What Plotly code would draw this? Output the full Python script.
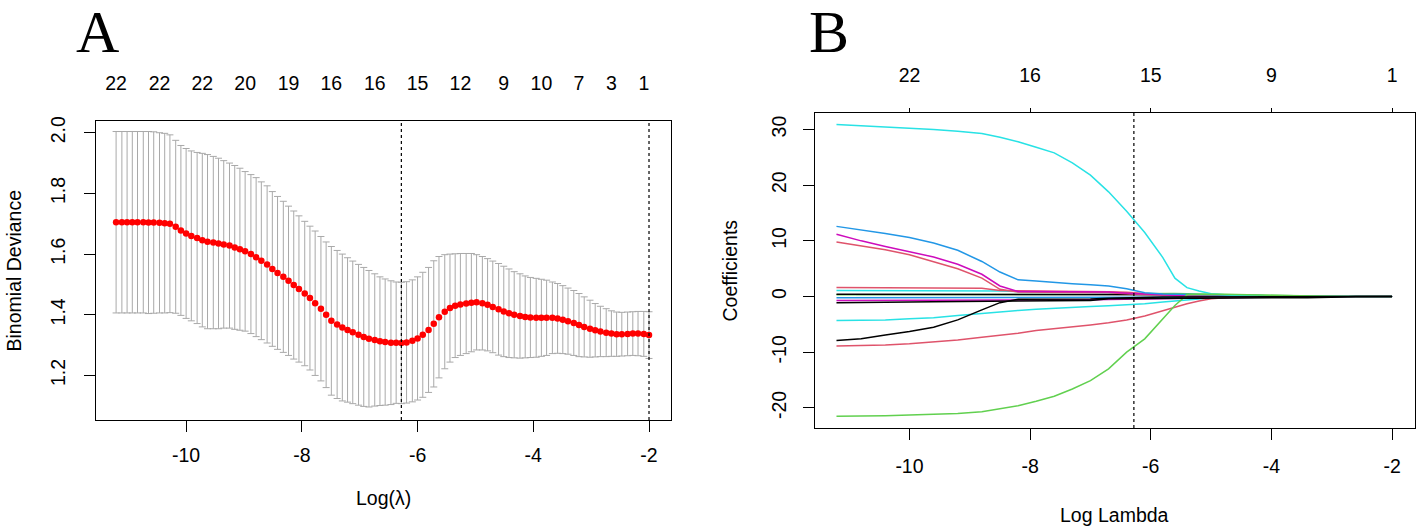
import plotly.graph_objects as go

# --- Panel A: cross-validated binomial deviance ---
LOG_LAMBDA = [-11.21, -11.11, -11.02, -10.93, -10.84, -10.74, -10.65, -10.56, -10.46, -10.37,
              -10.28, -10.18, -10.09, -10.00, -9.91, -9.81, -9.72, -9.63, -9.53, -9.44,
              -9.35, -9.25, -9.16, -9.07, -8.98, -8.88, -8.79, -8.70, -8.60, -8.51,
              -8.42, -8.32, -8.23, -8.14, -8.05, -7.95, -7.86, -7.77, -7.67, -7.58,
              -7.49, -7.39, -7.30, -7.21, -7.12, -7.02, -6.93, -6.84, -6.74, -6.65,
              -6.56, -6.46, -6.37, -6.28, -6.19, -6.09, -6.00, -5.91, -5.81, -5.72,
              -5.63, -5.53, -5.44, -5.35, -5.26, -5.16, -5.07, -4.98, -4.88, -4.79,
              -4.70, -4.60, -4.51, -4.42, -4.33, -4.23, -4.14, -4.05, -3.95, -3.86,
              -3.77, -3.67, -3.58, -3.49, -3.40, -3.30, -3.21, -3.12, -3.02, -2.93,
              -2.84, -2.74, -2.65, -2.56, -2.47, -2.37, -2.28, -2.19, -2.09, -2.00]

CV_MEAN = [1.705, 1.705, 1.705, 1.705, 1.705, 1.705, 1.704, 1.704, 1.703, 1.702,
           1.700, 1.690, 1.678, 1.668, 1.660, 1.653, 1.646, 1.641, 1.638, 1.635,
           1.632, 1.628, 1.622, 1.616, 1.609, 1.600, 1.590, 1.578, 1.566, 1.551,
           1.538, 1.525, 1.512, 1.498, 1.485, 1.470, 1.455, 1.438, 1.420, 1.400,
           1.380, 1.368, 1.358, 1.350, 1.342, 1.334, 1.327, 1.321, 1.317, 1.313,
           1.310, 1.308, 1.308, 1.307, 1.309, 1.314, 1.322, 1.334, 1.350, 1.370,
           1.392, 1.410, 1.422, 1.430, 1.434, 1.437, 1.440, 1.441, 1.438, 1.433,
           1.426, 1.418, 1.411, 1.405, 1.400, 1.396, 1.393, 1.391, 1.390, 1.390,
           1.390, 1.390, 1.388, 1.384, 1.379, 1.373, 1.366, 1.360, 1.354, 1.349,
           1.345, 1.341, 1.338, 1.336, 1.336, 1.337, 1.338, 1.338, 1.337, 1.333]

CV_SE = [0.299, 0.299, 0.299, 0.299, 0.299, 0.299, 0.300, 0.299, 0.297, 0.296,
         0.293, 0.285, 0.280, 0.280, 0.280, 0.282, 0.286, 0.287, 0.284, 0.281,
         0.276, 0.272, 0.270, 0.267, 0.263, 0.262, 0.262, 0.260, 0.259, 0.255,
         0.252, 0.249, 0.246, 0.244, 0.241, 0.238, 0.237, 0.238, 0.238, 0.240,
         0.245, 0.244, 0.242, 0.238, 0.235, 0.232, 0.229, 0.225, 0.218, 0.212,
         0.208, 0.204, 0.200, 0.200, 0.200, 0.201, 0.203, 0.206, 0.206, 0.208,
         0.200, 0.188, 0.178, 0.171, 0.168, 0.165, 0.162, 0.157, 0.154, 0.152,
         0.151, 0.151, 0.149, 0.146, 0.142, 0.139, 0.135, 0.132, 0.130, 0.127,
         0.124, 0.118, 0.115, 0.112, 0.109, 0.107, 0.104, 0.099, 0.094, 0.088,
         0.083, 0.079, 0.075, 0.073, 0.072, 0.072, 0.072, 0.073, 0.074, 0.077]

# number of non-zero coefficients shown on the top axis (R drops overlapping labels)
TOP_IDX_A = [0, 8, 16, 24, 32, 40, 48, 56, 64, 72, 79, 86, 92, 98]
TOP_COUNTS_A = ["22", "22", "22", "20", "19", "16", "16", "15", "12", "9", "10", "7", "3", "1"]

LAMBDA_MIN = -6.28
LAMBDA_1SE = -2.00

# --- Panel B: coefficient paths ---
LOG_LAMBDA_B = [-11.21, -10.8, -10.4, -10.0, -9.6, -9.2, -8.8, -8.5, -8.2, -7.9,
                -7.6, -7.3, -7.0, -6.7, -6.4, -6.1, -5.8, -5.6, -5.4, -5.2,
                -5.0, -4.6, -4.2, -3.8, -3.4, -3.0, -2.6, -2.2, -2.0]

coef_cyan_top = [30.9, 30.7, 30.5, 30.3, 30.0, 29.7, 29.3, 28.6, 27.8, 26.8,
                 25.8, 24.0, 21.8, 18.8, 15.3, 11.5, 7.0, 3.3, 1.6, 1.0,
                 0.5, 0.2, 0.15, 0.1, 0.05, 0.0, 0.0, 0.0, 0.0]
coef_blue_top = [12.6, 12.0, 11.3, 10.6, 9.6, 8.3, 6.3, 4.4, 3.0, 2.8,
                 2.5, 2.3, 2.1, 1.9, 1.4, 0.7, 0.45, 0.4, 0.35, 0.3,
                 0.3, 0.25, 0.2, 0.0, 0.0, 0.0, 0.0, 0.0, 0.0]
coef_magenta_top = [11.2, 10.0, 9.0, 8.1, 7.1, 5.8, 4.0, 1.9, 0.9, 0.9,
                    0.9, 0.9, 0.85, 0.8, 0.6, 0.4, 0.3, 0.2, 0.1, 0.0,
                    0.0, 0.0, 0.0, 0.0, 0.0, 0.0, 0.0, 0.0, 0.0]
coef_red_top = [9.8, 9.1, 8.4, 7.5, 6.3, 5.0, 3.3, 1.3, 0.8, 0.8,
                0.8, 0.8, 0.75, 0.7, 0.5, 0.35, 0.2, 0.1, 0.0, 0.0,
                0.0, 0.0, 0.0, 0.0, 0.0, 0.0, 0.0, 0.0, 0.0]
coef_red_neg = [-8.9, -8.85, -8.7, -8.5, -8.2, -7.8, -7.3, -7.0, -6.6, -6.1,
                -5.8, -5.5, -5.1, -4.7, -4.2, -3.5, -2.5, -1.9, -1.3, -0.8,
                -0.4, -0.1, 0.0, 0.0, 0.0, 0.0, 0.0, 0.0, 0.0]
coef_green_neg = [-21.5, -21.5, -21.4, -21.3, -21.2, -21.0, -20.7, -20.2, -19.6, -18.8,
                  -17.9, -16.6, -15.1, -13.0, -10.0, -7.6, -4.0, -1.6, 0.3, 0.4,
                  0.4, 0.35, 0.25, 0.15, 0.1, 0.05, 0.0, 0.0, 0.0]
coef_cyan_neg = [-4.3, -4.3, -4.2, -4.0, -3.8, -3.4, -3.0, -2.7, -2.5, -2.3,
                 -2.1, -1.95, -1.8, -1.65, -1.5, -1.3, -1.0, -0.8, -0.6, -0.4,
                 -0.25, -0.1, 0.0, 0.0, 0.0, 0.0, 0.0, 0.0, 0.0]
coef_black_neg = [-7.9, -7.6, -6.9, -6.3, -5.5, -4.2, -2.4, -1.1, -0.5, -0.5,
                  -0.5, -0.5, -0.45, -0.3, -0.2, -0.15, -0.1, -0.1, -0.1, 0.0,
                  0.0, 0.0, 0.0, 0.0, 0.0, 0.0, 0.0, 0.0, 0.0]
coef_black_small = [-1.1, -1.1, -1.05, -1.0, -0.95, -0.9, -0.9, -0.85, -0.85, -0.8,
                    -0.8, -0.75, -0.7, -0.4, -0.35, -0.3, -0.3, -0.3, -0.3, -0.3,
                    -0.3, -0.25, -0.25, -0.2, -0.2, -0.15, 0.0, 0.0, 0.0]
coef_red_small = [1.6, 1.6, 1.6, 1.6, 1.55, 1.55, 1.5, 1.1, 1.0, 1.0,
                  0.95, 0.95, 0.9, 0.85, 0.75, 0.5, 0.3, 0.25, 0.2, 0.2,
                  0.15, 0.15, 0.15, 0.15, 0.12, 0.1, 0.1, 0.05, 0.0]
coef_cyan_small = [1.1, 1.1, 1.1, 1.1, 1.1, 1.1, 1.1, 1.0, 0.9, 0.8,
                   0.8, 0.8, 0.8, 0.7, 0.6, 0.4, 0.3, 0.2, 0.1, 0.0,
                   0.0, 0.0, 0.0, 0.0, 0.0, 0.0, 0.0, 0.0, 0.0]
coef_blue_small = [-0.2, -0.2, -0.2, -0.2, -0.2, -0.2, -0.2, -0.2, -0.2, -0.2,
                   -0.2, -0.2, -0.2, -0.2, -0.2, -0.2, -0.2, -0.2, -0.2, -0.2,
                   -0.2, -0.2, -0.1, 0.0, 0.0, 0.0, 0.0, 0.0, 0.0]
coef_green_small = [0.3, 0.3, 0.3, 0.3, 0.3, 0.3, 0.3, 0.3, 0.3, 0.3,
                    0.3, 0.3, 0.3, 0.4, 0.5, 0.55, 0.6, 0.55, 0.5, 0.45,
                    0.4, 0.35, 0.2, 0.1, 0.0, 0.0, 0.0, 0.0, 0.0]
coef_magenta_small = [-0.7, -0.7, -0.7, -0.7, -0.7, -0.7, -0.7, -0.7, -0.6, -0.6,
                      -0.6, -0.6, -0.6, -0.55, -0.5, -0.45, -0.4, -0.35, -0.3, -0.3,
                      -0.25, -0.2, 0.0, 0.0, 0.0, 0.0, 0.0, 0.0, 0.0]
coef_black_pos = [0.4, 0.4, 0.4, 0.4, 0.4, 0.4, 0.4, 0.4, 0.4, 0.4,
                  0.4, 0.4, 0.4, 0.35, 0.35, 0.35, 0.3, 0.3, 0.3, 0.3,
                  0.2, 0.0, 0.0, 0.0, 0.0, 0.0, 0.0, 0.0, 0.0]

TOP_AT_B = [-10, -8, -6, -4, -2]
TOP_COUNTS_B = ["22", "16", "15", "9", "1"]

# R 4 palette, as used by matplot in plot.glmnet
BLACK, RED, GREEN, BLUE, CYAN, MAGENTA = "#000000", "#DF536B", "#61D04F", "#2297E6", "#28E2E5", "#CD0BBC"

paths = [
    (coef_blue_small, BLUE), (coef_green_small, GREEN), (coef_black_pos, BLACK),
    (coef_magenta_small, MAGENTA), (coef_cyan_small, CYAN), (coef_red_small, RED),
    (coef_red_top, RED), (coef_magenta_top, MAGENTA), (coef_blue_top, BLUE),
    (coef_cyan_top, CYAN), (coef_cyan_neg, CYAN), (coef_red_neg, RED),
    (coef_green_neg, GREEN), (coef_black_neg, BLACK), (coef_black_small, BLACK),
]

W, H = 1417, 530
FONT = "Liberation Sans, Arial, sans-serif"
SERIF = "Liberation Serif, Times New Roman, serif"
XR = [-11.566, -1.62]


def px(x):
    return x / W


def py(y):
    return 1 - y / H


fig = go.Figure()

# panel A: error bars + red points
fig.add_trace(go.Scatter(
    x=LOG_LAMBDA, y=CV_MEAN, mode="markers", xaxis="x", yaxis="y",
    marker=dict(color="#FF0000", size=6.5, line=dict(width=0)),
    error_y=dict(type="data", array=CV_SE, color="#A9A9A9", thickness=1, width=3.5),
    showlegend=False, hoverinfo="skip"
))
# invisible trace for the top count axis of A
fig.add_trace(go.Scatter(
    x=[LOG_LAMBDA[i] for i in TOP_IDX_A], y=[CV_MEAN[i] for i in TOP_IDX_A],
    xaxis="x2", yaxis="y", mode="markers", marker=dict(opacity=0),
    showlegend=False, hoverinfo="skip"
))

# panel B: coefficient paths
for vals, col in paths:
    fig.add_trace(go.Scatter(
        x=LOG_LAMBDA_B, y=vals, mode="lines", xaxis="x3", yaxis="y3",
        line=dict(color=col, width=1.5), showlegend=False, hoverinfo="skip"
    ))
fig.add_trace(go.Scatter(
    x=TOP_AT_B, y=[0] * len(TOP_AT_B), xaxis="x4", yaxis="y3", mode="markers",
    marker=dict(opacity=0), showlegend=False, hoverinfo="skip"
))

tick_font = dict(family=FONT, size=19.5, color="black")
box = dict(showline=True, linecolor="black", linewidth=1, mirror=True,
           showgrid=False, zeroline=False, ticks="outside", ticklen=11,
           tickcolor="black", tickfont=tick_font)

fig.update_layout(
    width=W, height=H, margin=dict(l=0, r=0, t=0, b=0),
    paper_bgcolor="white", plot_bgcolor="white",
    xaxis=dict(domain=[px(95.5), px(671)], range=XR, anchor="y",
               tickvals=[-10, -8, -6, -4, -2], ticktext=["-10", "-8", "-6", "-4", "-2"],
               ticklabelstandoff=7, **box),
    yaxis=dict(domain=[py(419), py(117)], range=[1.053, 2.039], anchor="x",
               tickvals=[1.2, 1.4, 1.6, 1.8, 2.0], ticktext=["1.2", "1.4", "1.6", "1.8", "2.0"],
               tickangle=-90, ticklabelstandoff=11, **box),
    xaxis2=dict(overlaying="x", side="top", range=XR, anchor="y",
                tickvals=[LOG_LAMBDA[i] for i in TOP_IDX_A], ticktext=TOP_COUNTS_A,
                ticks="", showline=False, showgrid=False, zeroline=False,
                tickfont=tick_font, ticklabelstandoff=26),
    xaxis3=dict(domain=[px(815), px(1415)], range=XR, anchor="y3",
                tickvals=[-10, -8, -6, -4, -2], ticktext=["-10", "-8", "-6", "-4", "-2"],
                ticklabelstandoff=10, **box),
    yaxis3=dict(domain=[py(427), py(109)], range=[-23.61, 32.97], anchor="x3",
                tickvals=[-20, -10, 0, 10, 20, 30], ticktext=["-20", "-10", "0", "10", "20", "30"],
                tickangle=-90, ticklabelstandoff=9, **box),
    xaxis4=dict(overlaying="x3", side="top", range=XR, anchor="y3",
                tickvals=TOP_AT_B, ticktext=TOP_COUNTS_B,
                ticks="outside", ticklen=4, tickcolor="black", showline=False,
                showgrid=False, zeroline=False, tickfont=tick_font, ticklabelstandoff=18),
    shapes=[
        dict(type="line", xref="x", yref="y domain", x0=LAMBDA_MIN, x1=LAMBDA_MIN, y0=0, y1=1,
             line=dict(color="black", width=1.2, dash="dot")),
        dict(type="line", xref="x", yref="y domain", x0=LAMBDA_1SE, x1=LAMBDA_1SE, y0=0, y1=1,
             line=dict(color="black", width=1.2, dash="dot")),
        dict(type="line", xref="x3", yref="y3 domain", x0=LAMBDA_MIN, x1=LAMBDA_MIN, y0=0, y1=1,
             line=dict(color="black", width=1.2, dash="dot")),
    ],
    annotations=[
        dict(text="A", x=px(97), y=1, xref="paper", yref="paper", showarrow=False, yshift=8,
             xanchor="center", yanchor="top", font=dict(family=SERIF, size=60, color="black")),
        dict(text="B", x=px(829), y=1, xref="paper", yref="paper", showarrow=False, yshift=8,
             xanchor="center", yanchor="top", font=dict(family=SERIF, size=60, color="black")),
        dict(text="Binomial Deviance", x=px(14), y=py(268), xref="paper", yref="paper",
             showarrow=False, textangle=-90, xanchor="center", yanchor="middle", font=tick_font),
        dict(text="Log(λ)", x=px(383), y=py(498), xref="paper", yref="paper",
             showarrow=False, xanchor="center", yanchor="middle", font=tick_font),
        dict(text="Coefficients", x=px(730), y=py(268), xref="paper", yref="paper",
             showarrow=False, textangle=-90, xanchor="center", yanchor="middle", font=tick_font),
        dict(text="Log Lambda", x=px(1114), y=py(515), xref="paper", yref="paper",
             showarrow=False, xanchor="center", yanchor="middle", font=tick_font),
    ],
)

fig.write_html("out.html", config={"displayModeBar": False},
               post_script="document.body.style.margin='0px';")
